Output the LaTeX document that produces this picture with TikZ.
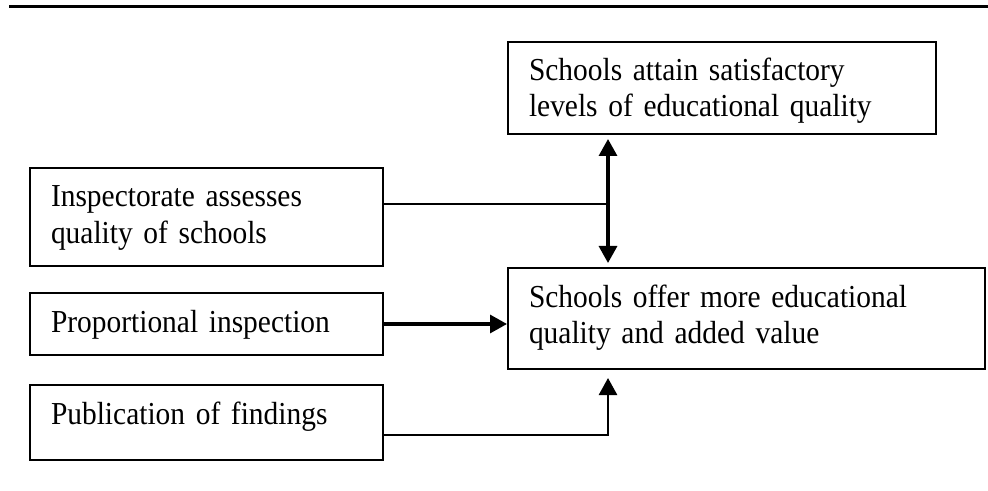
\documentclass[tikz,border=0pt]{standalone}
\usepackage{fontspec}
\setmainfont[FakeStretch=0.92]{Liberation Serif}
\usetikzlibrary{arrows.meta}

\begin{document}
\begin{tikzpicture}[x=0.5pt, y=-0.5pt,
        >={Triangle[length=8.5pt, width=9pt]},
        flowbox/.style={draw, line width=1pt, anchor=north west, align=left,
            inner xsep=10.5pt, inner ysep=0pt, text height=19.5pt,
            font=\fontsize{16pt}{18pt}\selectfont},
        feed/.style={line width=1.6pt}]
        % 1. AREA DA FIGURA
        \useasboundingbox (0,0) rectangle (988,491);
        \draw[line width=1.5pt] (9,7) -- (988,7);

        % ==========================================
        % 2. CAIXAS
        % ==========================================
        \node[flowbox, text width=193pt, text depth=26.5pt] (attain) at (507,41)
            {Schools attain satisfactory\\levels of educational quality};
        \node[flowbox, text width=155.5pt, text depth=29.5pt] (assess) at (29,167)
            {Inspectorate assesses\\quality of schools};
        \node[flowbox, text width=217.5pt, text depth=31pt] (offer) at (507,267)
            {Schools offer more educational\\quality and added value};
        \node[flowbox, text width=155.5pt, text depth=11.5pt] (propins) at (29,292)
            {Proportional inspection};
        \node[flowbox, text width=155.5pt, text depth=18pt] (publish) at (29,384)
            {Publication of findings};

        % ==========================================
        % 3. LIGACOES
        % ==========================================
        \coordinate (junction) at (608,204);
        \coordinate (bend) at (608,435);

        % Seta dupla entre as duas caixas da direita
        \draw[feed, <->, shorten <=2pt, shorten >=2pt]
            (attain.south -| junction) -- (offer.north -| junction);
        \draw[line width=1pt] (junction -| assess.east) -- (junction);

        \draw[feed, ->] (propins.east) -- (propins.east -| offer.west);

        \draw[line width=1.3pt, ->, shorten >=4pt]
            (bend -| publish.east) -- (bend) -- (offer.south -| bend);

    \end{tikzpicture}
\end{document}
